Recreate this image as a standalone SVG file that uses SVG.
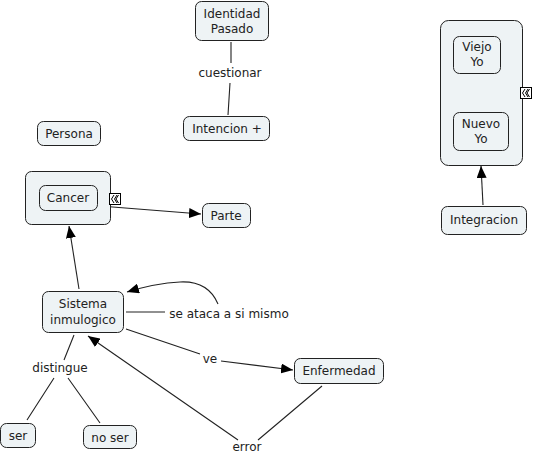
<svg xmlns="http://www.w3.org/2000/svg" width="535" height="453" viewBox="0 0 535 453">
<style>
.n{fill:#eef3f5;stroke:#222;stroke-width:1}
.t{font-family:"DejaVu Sans","Verdana",sans-serif;font-size:12px;fill:#222;text-anchor:middle}
.c{fill:none;stroke:#222;stroke-width:1.1}
.x{fill:#fff;stroke:#000;stroke-width:1}
</style>
<defs>
<marker id="a" viewBox="0 0 12 10" refX="12" refY="5" markerWidth="12" markerHeight="10" markerUnits="userSpaceOnUse" orient="auto"><path d="M0,0 L12,5 L0,10 Z" fill="#000"/></marker>
</defs>
<rect width="535" height="453" fill="#fff"/>
<g id="connectors">
<path class="c" d="M231,42 L231,63 M230,83 L228,115"/>
<path class="c" d="M100,206 L201,214" marker-end="url(#a)"/>
<path class="c" d="M483,205 L481,166" marker-end="url(#a)"/>
<path class="c" d="M79,289 L69,226" marker-end="url(#a)"/>
<path class="c" d="M126,312 L165,312"/>
<path class="c" d="M218,304 C212,290 200,281 180,282 C160,283 140,288 127,292" marker-end="url(#a)"/>
<path class="c" d="M126,329 L200,354 M221,361 L293,370" marker-end="url(#a)"/>
<path class="c" d="M322,386 L258,440 M238,440 L88,336" marker-end="url(#a)"/>
<path class="c" d="M74,335 L64,360 M54,378 L27,420 M68,378 L100,423"/>
</g>
<g id="identidad"><rect class="n" x="195.5" y="1.5" width="73" height="39" rx="6"/><text class="t" x="232" y="18">Identidad</text><text class="t" x="232" y="33">Pasado</text></g>
<g id="lbl-cuestionar"><text class="t" x="230" y="77">cuestionar</text></g>
<g id="intencion"><rect class="n" x="183.5" y="116.5" width="86" height="24" rx="6"/><text class="t" x="227" y="133">Intencion +</text></g>
<g id="persona"><rect class="n" x="37.5" y="121.5" width="63" height="24" rx="6"/><text class="t" x="69" y="138">Persona</text></g>
<g id="cancer-group"><rect class="n" x="25.5" y="171.5" width="85" height="53" rx="6"/>
<g id="cancer"><rect class="n" x="39.5" y="185.5" width="58" height="25" rx="6"/><text class="t" x="68" y="202">Cancer</text></g>
<g id="cancer-expand"><rect class="x" x="109.5" y="193.5" width="11" height="11"/><path d="M114,195 L111.5,199 L114,203 M117,195 L114.5,199 L117,203 M118.5,195 L116,199 L118.5,203" fill="none" stroke="#000" stroke-width="1"/></g></g>
<g id="parte"><rect class="n" x="202.5" y="203.5" width="48" height="24" rx="6"/><text class="t" x="226" y="220">Parte</text></g>
<g id="yo-group"><rect class="n" x="440.5" y="20.5" width="82" height="145" rx="8"/>
<g id="viejo"><rect class="n" x="453.5" y="36.5" width="47" height="37" rx="6"/><text class="t" x="477" y="51">Viejo</text><text class="t" x="477" y="66">Yo</text></g>
<g id="nuevo"><rect class="n" x="453.5" y="112.5" width="55" height="38" rx="6"/><text class="t" x="481" y="128">Nuevo</text><text class="t" x="481" y="143">Yo</text></g>
<g id="yo-expand"><rect class="x" x="520.5" y="87.5" width="11" height="11"/><path d="M525,89 L522.5,93 L525,97 M528,89 L525.5,93 L528,97 M529.5,89 L527,93 L529.5,97" fill="none" stroke="#000" stroke-width="1"/></g></g>
<g id="integracion"><rect class="n" x="441.5" y="206.5" width="85" height="28" rx="6"/><text class="t" x="484" y="224">Integracion</text></g>
<g id="sistema"><rect class="n" x="42.5" y="291.5" width="81" height="41" rx="6"/><text class="t" x="83" y="308">Sistema</text><text class="t" x="83" y="324">inmulogico</text></g>
<g id="lbl-ataca"><text class="t" x="229" y="318">se ataca a si mismo</text></g>
<g id="lbl-ve"><text class="t" x="210" y="363">ve</text></g>
<g id="enfermedad"><rect class="n" x="294.5" y="358.5" width="89" height="25" rx="6"/><text class="t" x="339" y="375">Enfermedad</text></g>
<g id="lbl-error"><text class="t" x="247" y="451">error</text></g>
<g id="lbl-distingue"><text class="t" x="60" y="372">distingue</text></g>
<g id="ser"><rect class="n" x="0.5" y="423.5" width="35" height="24" rx="6"/><text class="t" x="18" y="440">ser</text></g>
<g id="noser"><rect class="n" x="83.5" y="425.5" width="53" height="23" rx="6"/><text class="t" x="110" y="442">no ser</text></g>
</svg>
